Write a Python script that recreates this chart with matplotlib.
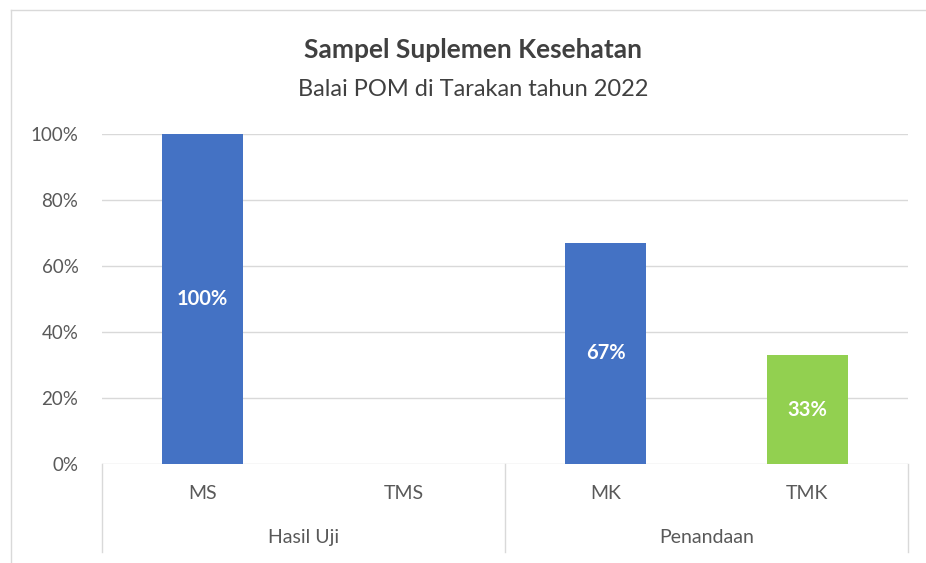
import matplotlib
matplotlib.use("Agg")
import matplotlib.pyplot as plt
from matplotlib.lines import Line2D

categories = ["MS", "TMS", "MK", "TMK"]
groups = ["Hasil Uji", "Penandaan"]
group_sizes = [2, 2]
values = [100, 0, 67, 33]
labels = ["100%", "", "67%", "33%"]
colors = ["#4472C4", "#4472C4", "#4472C4", "#92D050"]
yticks = [0, 20, 40, 60, 80, 100]
ytick_labels = ["0%", "20%", "40%", "60%", "80%", "100%"]

plt.rcParams['font.family'] = ['Lato', 'DejaVu Sans']

fig = plt.figure(figsize=(9.26, 5.63), dpi=100)
W, H = 926, 563
ax = fig.add_axes([102 / W, 1 - 464 / H, (908 - 102) / W, (464 - 134) / H])

x = list(range(len(categories)))
bars = ax.bar(x, values, width=0.4, color=colors, zorder=3)
for xi, v, lab in zip(x, values, labels):
    if lab:
        ax.text(xi, v / 2, lab, ha="center", va="center", color="white",
                fontsize=14.5, fontweight="bold", zorder=4)

ax.set_xlim(-0.5, len(categories) - 0.5)
ax.set_ylim(0, 100)
ax.set_yticks(yticks)
ax.set_yticklabels(ytick_labels, fontsize=13.5, color="#595959")
ax.tick_params(axis="y", length=0, pad=17)
ax.set_xticks([])
for y in yticks:
    ax.axhline(y, color="#D9D9D9", lw=1, zorder=1)
for s in ax.spines.values():
    s.set_visible(False)

# multi-level category axis
trans = ax.get_xaxis_transform()
for xi, c in zip(x, categories):
    ax.text(xi, -0.09, c, transform=trans, ha="center", va="center",
            fontsize=14, color="#595959")
start = 0
bounds = [-0.5]
for g, n in zip(groups, group_sizes):
    mid = start + (n - 1) / 2
    ax.text(mid, -0.222, g, transform=trans, ha="center", va="center",
            fontsize=14, color="#595959")
    start += n
    bounds.append(start - 0.5)
for b in bounds:
    ax.add_line(Line2D([b, b], [0, -0.267], transform=trans, color="#D9D9D9",
                       lw=1, clip_on=False))

# titles
fig.text(0.5 * (285 + 661) / W, 1 - 50 / H, "Sampel Suplemen Kesehatan",
         ha="center", va="center", fontsize=19, fontweight="bold", color="#404040")
fig.text(0.5 * (285 + 661) / W, 1 - 89 / H, "Balai POM di Tarakan tahun 2022",
         ha="center", va="center", fontsize=17, color="#404040")

# chart border
fig.add_artist(Line2D([11 / W, 11 / W], [0, 1 - 10 / H], transform=fig.transFigure,
                      color="#D9D9D9", lw=1))
fig.add_artist(Line2D([11 / W, 1], [1 - 10 / H, 1 - 10 / H], transform=fig.transFigure,
                      color="#D9D9D9", lw=1))

fig.savefig("out.png", dpi=100)
